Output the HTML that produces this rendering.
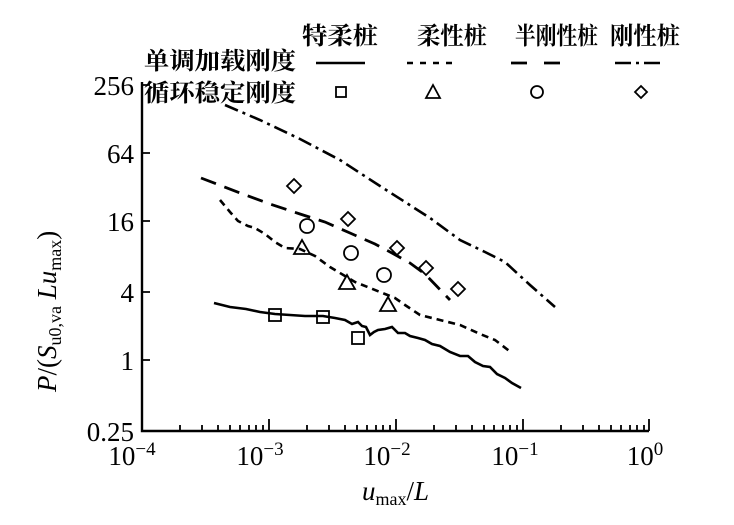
<!DOCTYPE html>
<html><head><meta charset="utf-8"><style>
body{margin:0;background:#fff;}
svg{display:block;}
.c{font-family:"Liberation Serif","Noto Serif CJK SC",serif;font-weight:bold;font-size:24px;}
.t{font-family:"Liberation Serif",serif;font-size:27px;}
</style></head><body>
<svg width="734" height="525" viewBox="0 0 734 525" xmlns="http://www.w3.org/2000/svg">
<g fill="none" stroke="#000" stroke-width="2.4">
<path d="M142 82 V431 H649"/>
<g stroke-width="1.8">
<path d="M142 431v-12M269 431v-12M396 431v-12M523 431v-12M649 431v-12"/>
<path id="mt" d="M180 431v-6M202 431v-6M218 431v-6M230 431v-6M240 431v-6M249 431v-6M256 431v-6M263 431v-6"/>
<use href="#mt" x="127"/><use href="#mt" x="254"/><use href="#mt" x="381"/>
<path d="M142 85h8M142 153h8M142 221h8M142 292h8M142 360h8"/>
</g>
<path stroke-width="2.6" d="M214 303 L230 307 246 309 260 312 275 314 290 315 305 316 323 316 335 318 345 320 352 324 358 322 362 326 366 327 370 335 374 332 378 330 385 329 392 327 398 333 405 333 410 336 418 338 425 340 432 344 440 346 450 352 460 356 468 356 475 362 483 366 490 367 497 374 505 378 512 383 521 388"/>
<path stroke-width="2.6" stroke-dasharray="7,5" d="M220 200 L230 212 238 221 248 226 255 228 265 234 275 242 285 248 300 249 315 256 330 267 345 276 355 282 370 288 385 294 395 298 405 305 420 315 440 320 460 325 480 334 495 340 512 353"/>
<path stroke-width="2.8" stroke-dasharray="16,9" d="M201 178 L240 193 270 204 300 214 325 222 350 233 375 244 392 253 410 263 425 274 450 300"/>
<path stroke-width="2.6" stroke-dasharray="14,5,3,5" d="M225 105 L260 120 300 139 340 160 380 186 405 202 430 218 460 240 485 252 505 262 530 285 555 307"/>
<g stroke-width="1.8">
<rect x="269" y="309" width="12" height="12"/><rect x="317" y="311" width="12" height="12"/><rect x="352" y="332" width="12" height="12"/>
<path d="M302 240 l8 14 h-16z M347 275 l8 14 h-16z M388 297 l8 14 h-16z"/>
<circle cx="307" cy="226" r="7"/><circle cx="351" cy="253" r="7"/><circle cx="384" cy="275" r="7"/>
<path d="M294 179 l7 7 -7 7 -7 -7z M348 212 l7 7 -7 7 -7 -7z M397 241 l7 7 -7 7 -7 -7z M426 261 l7 7 -7 7 -7 -7z M458 282 l7 7 -7 7 -7 -7z"/>
<path d="M316 63h49" stroke-width="2.6"/>
<path d="M407 63h48" stroke-width="2.6" stroke-dasharray="6,7"/>
<path d="M511 63h49" stroke-width="2.8" stroke-dasharray="16,17"/>
<path d="M615 63h50" stroke-width="2.6" stroke-dasharray="16,5,3,5"/>
<rect x="336" y="87" width="10" height="10"/>
<path d="M433 85 l7 13 h-14z"/>
<circle cx="537" cy="92" r="6"/>
<path d="M641 86 l6 6 -6 6 -6 -6z"/>
</g>
</g>
<g class="c">
<text x="302" y="44" textLength="76" lengthAdjust="spacingAndGlyphs">特柔桩</text>
<text x="417" y="44" textLength="70" lengthAdjust="spacingAndGlyphs">柔性桩</text>
<text x="515" y="44" textLength="83" lengthAdjust="spacingAndGlyphs">半刚性桩</text>
<text x="610" y="44" textLength="70" lengthAdjust="spacingAndGlyphs">刚性桩</text>
<text x="144" y="69" textLength="152" lengthAdjust="spacingAndGlyphs">单调加载刚度</text>
<text x="144" y="101" textLength="152" lengthAdjust="spacingAndGlyphs">循环稳定刚度</text>
</g>
<g class="t" text-anchor="end">
<text x="134" y="95">256</text>
<text x="134" y="163">64</text>
<text x="134" y="231">16</text>
<text x="134" y="302">4</text>
<text x="134" y="370">1</text>
<text x="134" y="441">0.25</text>
</g>
<g class="t" text-anchor="middle">
<text x="132" y="465">10<tspan font-size="19" dy="-10">−4</tspan></text>
<text x="260" y="465">10<tspan font-size="19" dy="-10">−3</tspan></text>
<text x="387" y="465">10<tspan font-size="19" dy="-10">−2</tspan></text>
<text x="515" y="465">10<tspan font-size="19" dy="-10">−1</tspan></text>
<text x="645" y="465">10<tspan font-size="19" dy="-10">0</tspan></text>
</g>
<text class="t" x="362" y="500" font-style="italic">u<tspan font-size="18" dy="5" font-style="normal">max</tspan><tspan dy="-5" font-style="normal">/</tspan>L</text>
<text class="t" transform="translate(56 392) rotate(-90)" font-style="italic">P<tspan font-style="normal">/(</tspan>S<tspan font-size="18" dy="5" font-style="normal">u0,va</tspan><tspan dy="-5"> L</tspan>u<tspan font-size="18" dy="5" font-style="normal">max</tspan><tspan dy="-5" font-style="normal">)</tspan></text>
</svg>
</body></html>
